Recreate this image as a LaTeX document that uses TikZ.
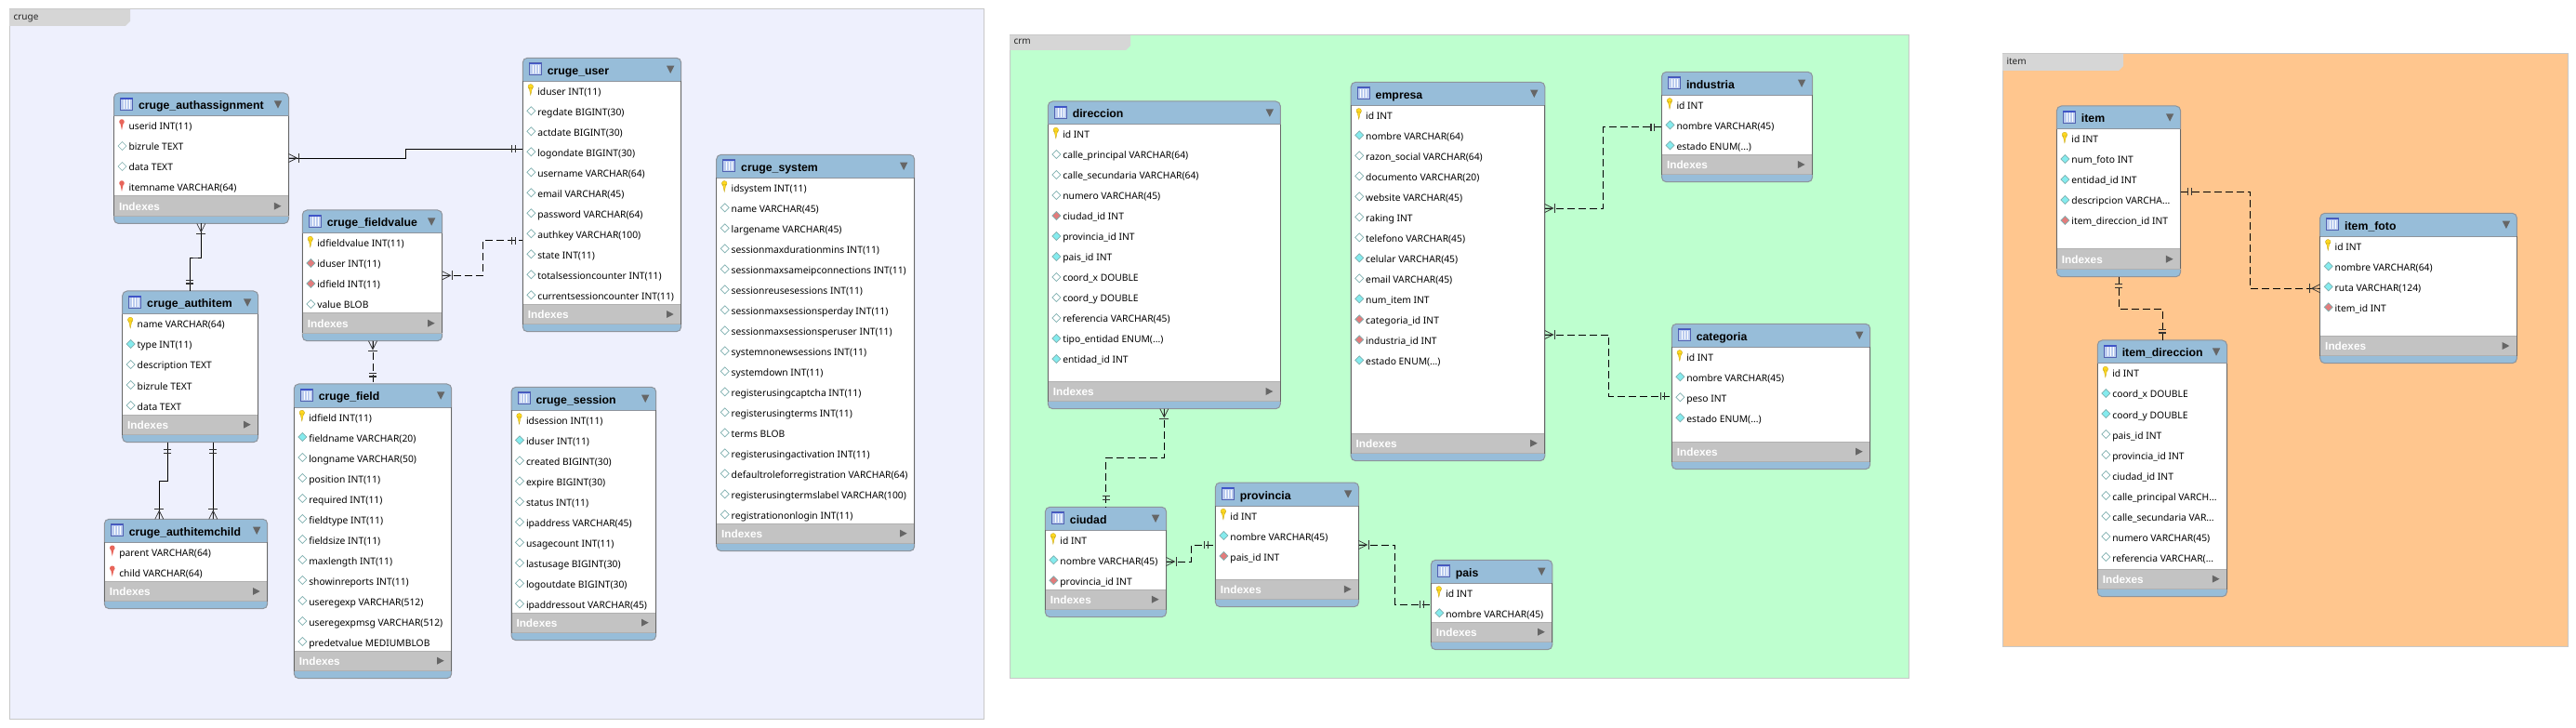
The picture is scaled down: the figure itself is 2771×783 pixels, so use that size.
\documentclass[tikz,border=0pt]{standalone}
\usepackage{fontspec}
\setmainfont{Noto Sans}
\newfontfamily\headfont[BoldFont={Liberation Sans Bold}]{Liberation Sans}
\definecolor{headblue}{HTML}{97BDD9}
\definecolor{idxgrey}{HTML}{C3C3C3}
\definecolor{idxline}{HTML}{B0B0B0}
\definecolor{tblborder}{HTML}{8E949C}
\definecolor{bgcruge}{HTML}{EEF0FD}
\definecolor{bgcrm}{HTML}{BEFFCF}
\definecolor{bgitem}{HTML}{FFC68E}
\definecolor{tabgrey}{HTML}{D6D6D6}
\definecolor{layerline}{HTML}{C8C8C8}
\definecolor{keyyellow}{HTML}{FFD820}
\definecolor{keyred}{HTML}{E8655A}
\definecolor{diacyan}{HTML}{85EBEE}
\definecolor{diared}{HTML}{E27C7C}
\definecolor{dialine}{HTML}{7FB0B0}
\definecolor{markgrey}{HTML}{333333}
\definecolor{arrowgrey}{HTML}{666666}
\definecolor{iconblue}{HTML}{3F55C8}
\definecolor{iconfill}{HTML}{BCCDEF}
\tikzset{
  x=1pt,y=-1pt,
  tablebox/.style={draw=tblborder,fill=headblue,line width=1pt,rounded corners=5pt,inner sep=0pt,outer sep=0pt},
  rowtext/.style={anchor=base west,inner sep=0pt,outer sep=0pt,font=\fontsize{10.3}{12}\selectfont,text=black},
  titletext/.style={anchor=base west,inner sep=0pt,outer sep=0pt,font=\headfont\fontsize{12.3}{14}\selectfont\bfseries,text=black},
  idxtext/.style={anchor=base west,inner sep=0pt,outer sep=0pt,font=\headfont\fontsize{11.8}{14}\selectfont\bfseries,text=white},
  layertext/.style={anchor=base west,inner sep=0pt,outer sep=0pt,font=\fontsize{10}{12}\selectfont,text=black!85},
  rel/.style={draw=black,line width=.85pt},
  reld/.style={draw=black,line width=.85pt,dash pattern=on 8pt off 4pt},
  pics/crow/.style={code={
    \draw[markgrey,line width=.75pt] (0,-4.5) -- (9,0) -- (0,4.5) (0,0) -- (9,0);
    \draw[markgrey,line width=1.2pt] (11,-5) -- (11,5);
  }},
  pics/bars/.style={code={
    \draw[markgrey,line width=1.1pt] (8,-4) -- (8,4) (11.5,-4) -- (11.5,4);
  }}
}
\newcommand{\dts}{...}
\newcommand{\iconk}[2]{\fill[keyyellow,draw=keyyellow!75!black,line width=.3pt] (#1+8.5,#2-5) circle (2.8);
  \fill[keyyellow,draw=keyyellow!75!black,line width=.3pt] (#1+6.8,#2-4) -- (#1+8.5,#2+4) -- (#1+10.2,#2-4) -- cycle;}
\newcommand{\iconp}[2]{\fill[keyred] (#1+8.5,#2-5) circle (2.8);
  \fill[keyred] (#1+6.8,#2-4) -- (#1+8.5,#2+4) -- (#1+10.2,#2-4) -- cycle;}
\newcommand{\diam}[3]{\filldraw[fill=#3,draw=dialine,line width=.7pt] (#1+4.5,#2-1) -- (#1+9,#2-5.5) -- (#1+13.5,#2-1) -- (#1+9,#2+3.5) -- cycle;}
\newcommand{\icono}[2]{\diam{#1}{#2}{white}}
\newcommand{\iconu}[2]{\diam{#1}{#2}{diacyan}}
\newcommand{\iconf}[2]{\diam{#1}{#2}{diared}}
% id, x1, x2, ytop, index top, ybottom, title, rows
\newcommand{\ertable}[8]{%
  \node[tablebox,minimum width={(#3-#2)*1pt},minimum height={(#6-#4)*1pt}] (#1) at ({(#2+#3)/2},{(#4+#6)/2}) {};
  \fill[white] (#2,#4+25) rectangle (#3,#5);
  \fill[idxgrey] (#2,#5) rectangle (#3,#5+21.5);
  \draw[idxline,line width=1pt] (#2,#5) -- (#3,#5) (#2,#5+21.5) -- (#3,#5+21.5);
  \draw[tblborder,line width=1pt] (#2,#4+25) -- (#3,#4+25);
  \draw[arrowgrey,line width=1pt] (#2,#4+25) -- (#2,#5+21.5) (#3,#4+25) -- (#3,#5+21.5);
  % table glyph
  \filldraw[fill=iconfill,draw=iconblue!70!gray,line width=.8pt] (#2+7,#4+5.5) rectangle (#2+20,#4+18);
  \draw[iconblue,line width=1.4pt] (#2+7,#4+6) -- (#2+20,#4+6);
  \draw[white,line width=.5pt] (#2+10.5,#4+7.5) -- (#2+10.5,#4+17) (#2+13.5,#4+7.5) -- (#2+13.5,#4+17) (#2+16.5,#4+7.5) -- (#2+16.5,#4+17);
  \node[titletext] (#1-title) at (#2+26.5,#4+18) {#7};
  \fill[arrowgrey] (#3-15.7,#4+8.3) -- (#3-7.3,#4+8.3) -- (#3-11.5,#4+16.7) -- cycle;
  \fill[arrowgrey] (#3-15.7,#5+6.7) -- (#3-8,#5+10.7) -- (#3-15.7,#5+14.7) -- cycle;
  \node[idxtext] (#1-idx) at (#2+5.5,#5+15.5) {Indexes};
  \foreach \k/\t [count=\i from 0] in {#8}{
    \csname icon\k\endcsname{#2}{#4+36+22*\i}
    \node[rowtext] (#1-r\i) at (#2+16,#4+40+22*\i) {\t};
  }
}
% id, x1, y1, x2, y2, tab right, tab height, colour
\newcommand{\erlayer}[8]{%
  \node[draw=layerline,fill=#8,line width=1pt,inner sep=0pt,outer sep=0pt,minimum width={(#4-#2)*1pt},minimum height={(#5-#3)*1pt}] (#1) at ({(#2+#4)/2},{(#3+#5)/2}) {};
  \fill[tabgrey] (#2,#3) -- (#6,#3) -- (#6,#3+#7-5) -- (#6-5,#3+#7) -- (#2,#3+#7) -- cycle;
  \node[layertext] (#1-label) at (#2+4.5,#3+#7-6) {#1};
}
\begin{document}
\begin{tikzpicture}
\useasboundingbox (0,0) rectangle (2771,783);
\fill[white] (0,0) rectangle (2771,783);
\erlayer{cruge}{10}{10}{1058}{773}{140}{18}{bgcruge}
\erlayer{crm}{1086}{38}{2053}{729}{1216}{16}{bgcrm}
\erlayer{item}{2154}{58}{2762}{695}{2284}{18}{bgitem}

\ertable{aa}{122.5}{310.5}{100}{211}{240.5}{cruge\_authassignment}{p/userid INT(11),o/bizrule TEXT,o/data TEXT,p/itemname VARCHAR(64)}
\ertable{ai}{131.7}{277.7}{313}{446}{475.7}{cruge\_authitem}{k/name VARCHAR(64),u/type INT(11),o/description TEXT,o/bizrule TEXT,o/data TEXT}
\ertable{ac}{112.3}{287.7}{558.3}{625.3}{654.7}{cruge\_authitemchild}{p/parent VARCHAR(64),p/child VARCHAR(64)}
\ertable{fv}{325.3}{475.7}{226}{337}{366.7}{cruge\_fieldvalue}{k/idfieldvalue INT(11),f/iduser INT(11),f/idfield INT(11),o/value BLOB}
\ertable{fd}{316.3}{485.7}{413}{700}{729.7}{cruge\_field}{k/idfield INT(11),u/fieldname VARCHAR(20),o/longname VARCHAR(50),o/position INT(11),o/required INT(11),o/fieldtype INT(11),o/fieldsize INT(11),o/maxlength INT(11),o/showinreports INT(11),o/useregexp VARCHAR(512),o/useregexpmsg VARCHAR(512),o/predetvalue MEDIUMBLOB}
\ertable{us}{562.3}{732.7}{62.3}{327.3}{356.7}{cruge\_user}{k/iduser INT(11),o/regdate BIGINT(30),o/actdate BIGINT(30),o/logondate BIGINT(30),o/username VARCHAR(64),o/email VARCHAR(45),o/password VARCHAR(64),o/authkey VARCHAR(100),o/state INT(11),o/totalsessioncounter INT(11),o/currentsessioncounter INT(11)}
\ertable{se}{550}{705.7}{416.3}{659}{688.7}{cruge\_session}{k/idsession INT(11),u/iduser INT(11),o/created BIGINT(30),o/expire BIGINT(30),o/status INT(11),o/ipaddress VARCHAR(45),o/usagecount INT(11),o/lastusage BIGINT(30),o/logoutdate BIGINT(30),o/ipaddressout VARCHAR(45)}
\ertable{sy}{770.7}{983.7}{166.3}{563}{592.7}{cruge\_system}{k/idsystem INT(11),o/name VARCHAR(45),o/largename VARCHAR(45),o/sessionmaxdurationmins INT(11),o/sessionmaxsameipconnections INT(11),o/sessionreusesessions INT(11),o/sessionmaxsessionsperday INT(11),o/sessionmaxsessionsperuser INT(11),o/systemnonewsessions INT(11),o/systemdown INT(11),o/registerusingcaptcha INT(11),o/registerusingterms INT(11),o/terms BLOB,o/registerusingactivation INT(11),o/defaultroleforregistration VARCHAR(64),o/registerusingtermslabel VARCHAR(100),o/registrationonlogin INT(11)}

\ertable{di}{1127.3}{1377.3}{109}{410.3}{439.7}{direccion}{k/id INT,o/calle\_principal VARCHAR(64),o/calle\_secundaria VARCHAR(64),o/numero VARCHAR(45),f/ciudad\_id INT,u/provincia\_id INT,u/pais\_id INT,o/coord\_x DOUBLE,o/coord\_y DOUBLE,o/referencia VARCHAR(45),u/tipo\_entidad ENUM(\dts),u/entidad\_id INT}
\ertable{em}{1453.2}{1661.8}{88.3}{466}{495.7}{empresa}{k/id INT,u/nombre VARCHAR(64),o/razon\_social VARCHAR(64),o/documento VARCHAR(20),o/website VARCHAR(45),o/raking INT,o/telefono VARCHAR(45),u/celular VARCHAR(45),o/email VARCHAR(45),u/num\_item INT,f/categoria\_id INT,f/industria\_id INT,u/estado ENUM(\dts)}
\ertable{in}{1787.5}{1949.6}{77.3}{166.3}{195.7}{industria}{k/id INT,u/nombre VARCHAR(45),u/estado ENUM(\dts)}
\ertable{ca}{1798.3}{2011.7}{348.3}{475}{504.7}{categoria}{k/id INT,u/nombre VARCHAR(45),o/peso INT,u/estado ENUM(\dts)}
\ertable{ci}{1124.4}{1254.6}{545.3}{634}{663.7}{ciudad}{k/id INT,u/nombre VARCHAR(45),f/provincia\_id INT}
\ertable{pr}{1307.4}{1461.6}{519}{623}{652.7}{provincia}{k/id INT,u/nombre VARCHAR(45),f/pais\_id INT}
\ertable{pa}{1539.3}{1669.8}{602.3}{669}{698.7}{pais}{k/id INT,u/nombre VARCHAR(45)}

\ertable{it}{2212.4}{2345.6}{114}{268}{297.7}{item}{k/id INT,u/num\_foto INT,u/entidad\_id INT,u/descripcion VARCHA\dts,f/item\_direccion\_id INT}
\ertable{fo}{2495.7}{2707.4}{229.3}{361.3}{390.7}{item\_foto}{k/id INT,u/nombre VARCHAR(64),u/ruta VARCHAR(124),f/item\_id INT}
\ertable{id}{2256.3}{2395.5}{366}{612}{641.7}{item\_direccion}{k/id INT,u/coord\_x DOUBLE,u/coord\_y DOUBLE,o/pais\_id INT,o/provincia\_id INT,o/ciudad\_id INT,o/calle\_principal VARCH\dts,o/calle\_secundaria VAR\dts,o/numero VARCHAR(45),o/referencia VARCHAR(\dts}

% connectors: end points sit on the table nodes
\coordinate (a1) at (aa.east |- 0,170);   \coordinate (b1) at (us.west |- 0,160);   \coordinate (m1) at (436.3,165);
\draw[rel] (a1) -| (m1) |- (b1);
\pic[rotate=0] at (a1) {crow}; \pic[rotate=180] at (b1) {bars};

\coordinate (a2) at (216.3,0 |- aa.south);
\coordinate (b2) at (204.3,0 |- ai.north); \coordinate (m2) at (210,277);
\draw[rel] (a2) |- (m2) -| (b2);
\pic[rotate=270] at (a2) {crow}; \pic[rotate=90] at (b2) {bars};

\coordinate (a3) at (180.3,0 |- ai.south); \coordinate (b3) at (171.3,0 |- ac.north); \coordinate (m3) at (175,517.3);
\draw[rel] (a3) |- (m3) -| (b3);
\pic[rotate=270] at (a3) {bars}; \pic[rotate=90] at (b3) {crow};

\coordinate (a4) at (229.3,0 |- ai.south); \coordinate (b4) at (229.3,0 |- ac.north);
\draw[rel] (a4) -- (b4);
\pic[rotate=270] at (a4) {bars}; \pic[rotate=90] at (b4) {crow};

\coordinate (a5) at (fv.east |- 0,296.3); \coordinate (b5) at (us.west |- 0,258.7); \coordinate (m5) at (519.7,277);
\draw[reld] (a5) -| (m5) |- (b5);
\pic[rotate=0] at (a5) {crow}; \pic[rotate=180] at (b5) {bars};

\coordinate (a6) at (401,0 |- fv.south); \coordinate (b6) at (401,0 |- fd.north);
\draw[reld] (a6) -- (b6);
\pic[rotate=270] at (a6) {crow}; \pic[rotate=90] at (b6) {bars};

\coordinate (a7) at (1252.3,0 |- di.south); \coordinate (b7) at (1189.5,0 |- ci.north); \coordinate (m7) at (1220,492.3);
\draw[reld] (a7) |- (m7) -| (b7);
\pic[rotate=270] at (a7) {crow}; \pic[rotate=90] at (b7) {bars};

\coordinate (a8) at (ci.east |- 0,604); \coordinate (b8) at (pr.west |- 0,586.3); \coordinate (m8) at (1281.3,595);
\draw[reld] (a8) -| (m8) |- (b8);
\pic[rotate=0] at (a8) {crow}; \pic[rotate=180] at (b8) {bars};

\coordinate (a9) at (pr.east |- 0,586); \coordinate (b9) at (pa.west |- 0,650); \coordinate (m9) at (1500.6,618);
\draw[reld] (a9) -| (m9) |- (b9);
\pic[rotate=0] at (a9) {crow}; \pic[rotate=180] at (b9) {bars};

\coordinate (a10) at (em.east |- 0,224); \coordinate (b10) at (in.west |- 0,136.7); \coordinate (m10) at (1724.6,180);
\draw[reld] (a10) -| (m10) |- (b10);
\pic[rotate=0] at (a10) {crow}; \pic[rotate=180] at (b10) {bars};

\coordinate (a11) at (em.east |- 0,360); \coordinate (b11) at (ca.west |- 0,426.3); \coordinate (m11) at (1730.7,393);
\draw[reld] (a11) -| (m11) |- (b11);
\pic[rotate=0] at (a11) {crow}; \pic[rotate=180] at (b11) {bars};

\coordinate (a12) at (it.east |- 0,206); \coordinate (b12) at (fo.west |- 0,310.3); \coordinate (m12) at (2420.5,258);
\draw[reld] (a12) -| (m12) |- (b12);
\pic[rotate=0] at (a12) {bars}; \pic[rotate=180] at (b12) {crow};

\coordinate (a13) at (2279.2,0 |- it.south); \coordinate (b13) at (2326.3,0 |- id.north); \coordinate (m13) at (2300,332.3);
\draw[reld] (a13) |- (m13) -| (b13);
\pic[rotate=270] at (a13) {bars}; \pic[rotate=90] at (b13) {bars};
\end{tikzpicture}
\end{document}
